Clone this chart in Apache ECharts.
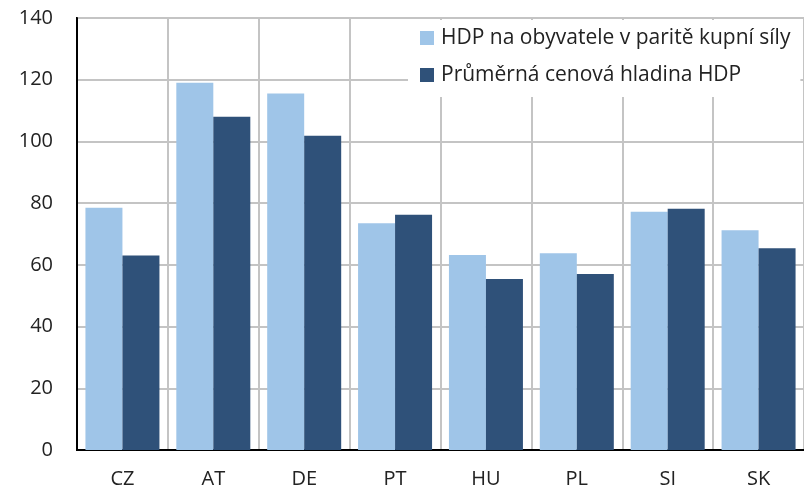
<!DOCTYPE html>
<html>
<head>
<meta charset="utf-8">
<script src="https://cdn.jsdelivr.net/npm/echarts@6/dist/echarts.min.js"></script>
<style>
  html, body { margin: 0; padding: 0; background: #fff; }
  #chart { width: 804px; height: 489px; }
</style>
</head>
<body>
<div id="chart"></div>
<script>
// kategorie (země)
const categories = ['CZ', 'AT', 'DE', 'PT', 'HU', 'PL', 'SI', 'SK']
// HDP na obyvatele v PPS
const hdpPps = [78.5, 119, 115.5, 73.5, 63.2, 63.8, 77.2, 71.2]
// cenová hladina HDP
const cenovaHladina = [63, 108, 101.8, 76.2, 55.4, 57, 78.2, 65.4]
const seriesNames = ['HDP na obyvatele v paritě kupní síly', 'Průměrná cenová hladina HDP']
// osa y
const yMin = 0
const yMax = 140
const yStep = 20

const FONT = 'Open Sans'
const chart = echarts.init(document.getElementById('chart'))

chart.setOption({
  animation: false,
  textStyle: { fontFamily: FONT },
  grid: {
    left: 77,
    top: 18,
    width: 736,
    height: 433,
    show: true,
    borderColor: '#000',
    borderWidth: 2,
    backgroundColor: 'transparent'
  },
  legend: {
    orient: 'vertical',
    left: 408,
    top: 20,
    padding: [6, 10, 10, 12],
    backgroundColor: '#fff',
    itemWidth: 14,
    itemHeight: 14,
    itemGap: 13,
    icon: 'rect',
    textStyle: { fontFamily: FONT, fontSize: 21, color: '#222', lineHeight: 24, padding: [0, 0, 0, 2] },
    data: seriesNames
  },
  xAxis: {
    type: 'category',
    data: categories,
    axisLine: { show: true, lineStyle: { color: '#000', width: 2 } },
    axisTick: { show: false },
    axisLabel: { fontFamily: FONT, fontSize: 20, color: '#222', margin: 19 },
    splitLine: { show: true, interval: 0, lineStyle: { color: '#c4c4c4', width: 2 } }
  },
  yAxis: {
    type: 'value',
    min: yMin,
    max: yMax,
    interval: yStep,
    axisLine: { show: true, lineStyle: { color: '#000', width: 2 } },
    axisTick: { show: false },
    axisLabel: { fontFamily: FONT, fontSize: 20, color: '#222', margin: 24 },
    splitLine: { show: true, lineStyle: { color: '#c4c4c4', width: 2 } }
  },
  series: [
    {
      name: seriesNames[0],
      type: 'bar',
      data: hdpPps,
      barWidth: 37,
      barGap: '0%',
      itemStyle: { color: '#9fc5e8' }
    },
    {
      name: seriesNames[1],
      type: 'bar',
      data: cenovaHladina,
      barWidth: 37,
      itemStyle: { color: '#2f5179' }
    }
  ]
})
</script>
</body>
</html>
